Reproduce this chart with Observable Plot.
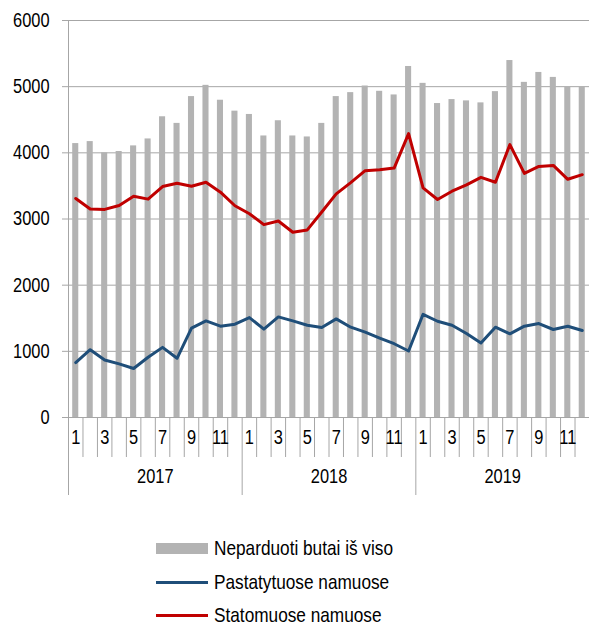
<!DOCTYPE html>
<html>
<head>
<meta charset="utf-8">
<script src="https://cdn.jsdelivr.net/npm/d3@7"></script>
<script src="https://cdn.jsdelivr.net/npm/@observablehq/plot@0.6"></script>
<style>
  html, body { margin: 0; padding: 0; background: #fff; }
  body { width: 589px; height: 627px; position: relative; overflow: hidden;
         font-family: "Liberation Sans", Arial, sans-serif; }
  #legend { position: absolute; left: 0; top: 510px; width: 589px; height: 117px; }
  .item { position: absolute; left: 156px; height: 28px; display: flex; align-items: center; font-size: 21px; color: #000; white-space: nowrap; }
  .sw { width: 52px; margin-right: 6px; flex: none; }
  .lbl { display: inline-block; transform: scaleX(0.82); transform-origin: left center; }
</style>
</head>
<body>
<div id="chart"></div>
<div id="legend"></div>
<script>
// ---- data ----
const years = ["2017", "2018", "2019"];
const monthLabels = ["1","2","3","4","5","6","7","8","9","10","11","12"];
const seriesNames = ["Neparduoti butai iš viso", "Pastatytuose namuose", "Statomuose namuose"];
const totalUnsold = [
  4140, 4170, 4000, 4020, 4105, 4210, 4545, 4445, 4850, 5020, 4795, 4630,
  4580, 4255, 4485, 4255, 4240, 4445, 4850, 4910, 5010, 4930, 4875, 5305,
  5050, 4745, 4805, 4785, 4755, 4925, 5395, 5065, 5215, 5140, 5000, 5000
];
const inBuilt = [
  830, 1025, 870, 810, 740, 910, 1060, 895, 1350, 1460, 1380, 1410,
  1510, 1335, 1520, 1460, 1395, 1360, 1490, 1365, 1290, 1200, 1115, 1005,
  1560, 1455, 1395, 1270, 1125, 1365, 1265, 1380, 1420, 1330, 1380, 1315
];
const inConstruction = [
  3310, 3150, 3145, 3205, 3345, 3300, 3490, 3540, 3495, 3555, 3405, 3200,
  3080, 2915, 2970, 2800, 2835, 3105, 3380, 3550, 3730, 3745, 3770, 4290,
  3470, 3295, 3420, 3515, 3630, 3555, 4125, 3690, 3795, 3810, 3600, 3670
];
const yTicks = [0, 1000, 2000, 3000, 4000, 5000, 6000];
const colors = { total: "#b3b3b3", built: "#1f4e79", construction: "#c00000" };

// ---- derived table ----
const rows = totalUnsold.map((t, i) => ({
  i, year: years[Math.floor(i / 12)], month: monthLabels[i % 12],
  total: t, built: inBuilt[i], construction: inConstruction[i]
}));
const oddRows = rows.filter(d => (d.i % 12) % 2 === 0);
const nMonths = rows.length;
const monthBounds = d3.range(1, nMonths).filter(k => k % 12 !== 0);
const yearBounds = d3.range(0, nMonths + 1, 12);
const yearRows = years.map((y, k) => ({ y, c: k * 12 + 6 }));

const font = '"Liberation Sans", Arial, sans-serif';
const gridColor = "#a6a6a6";

const chart = Plot.plot({
  width: 589,
  height: 510,
  marginLeft: 68,
  marginRight: 0,
  marginTop: 20,
  marginBottom: 93,
  style: { fontFamily: font, fontSize: "20px", color: "#000", background: "#fff", overflow: "visible" },
  x: { type: "linear", domain: [0, nMonths], axis: null },
  y: { domain: [0, 6000], axis: null },
  marks: [
    Plot.ruleY(yTicks, { y: d => d, stroke: gridColor, strokeWidth: 1, insetLeft: -6 }),
    Plot.text(yTicks, { y: d => d, text: d => String(d), frameAnchor: "left", textAnchor: "end", dx: -19, fontSize: 20 }),
    Plot.rectY(rows, { x1: d => d.i, x2: d => d.i + 1, y: "total", fill: colors.total, insetLeft: 4.2, insetRight: 4.2 }),
    Plot.ruleX([0], { x: d => d, stroke: gridColor, strokeWidth: 1 }),
    Plot.ruleX(monthBounds, { x: d => d, y1: 0, y2: 0, insetBottom: -40, stroke: gridColor, strokeWidth: 1 }),
    Plot.ruleX(yearBounds, { x: d => d, y1: 0, y2: 0, insetBottom: -78, stroke: gridColor, strokeWidth: 1 }),
    Plot.text(oddRows, { x: d => d.i + 0.5, text: "month", frameAnchor: "bottom", dy: 26, fontSize: 20 }),
    Plot.text(yearRows, { x: "c", text: "y", frameAnchor: "bottom", dy: 65, fontSize: 20 }),
    Plot.line(rows, { x: d => d.i + 0.5, y: "built", stroke: colors.built, strokeWidth: 3, strokeLinejoin: "round" }),
    Plot.line(rows, { x: d => d.i + 0.5, y: "construction", stroke: colors.construction, strokeWidth: 3, strokeLinejoin: "round" })
  ]
});
document.getElementById("chart").appendChild(chart);

// condense the text horizontally (narrow face look)
chart.querySelectorAll("text").forEach(el => {
  const w = el.getComputedTextLength();
  if (w > 0) {
    el.setAttribute("textLength", (w * 0.82).toFixed(2));
    el.setAttribute("lengthAdjust", "spacingAndGlyphs");
  }
});

// ---- legend ----
const legend = document.getElementById("legend");
const items = [
  { name: seriesNames[0], type: "rect", color: colors.total, top: 38 },
  { name: seriesNames[1], type: "line", color: colors.built, top: 72 },
  { name: seriesNames[2], type: "line", color: colors.construction, top: 105 }
];
items.forEach(it => {
  const div = document.createElement("div");
  div.className = "item";
  div.style.top = (it.top - 14) + "px";
  const sw = document.createElement("div");
  sw.className = "sw";
  sw.style.background = it.color;
  sw.style.height = it.type === "rect" ? "11px" : "3px";
  div.appendChild(sw);
  const t = document.createElement("span");
  t.className = "lbl";
  t.textContent = it.name;
  div.appendChild(t);
  legend.appendChild(div);
});
</script>
</body>
</html>
